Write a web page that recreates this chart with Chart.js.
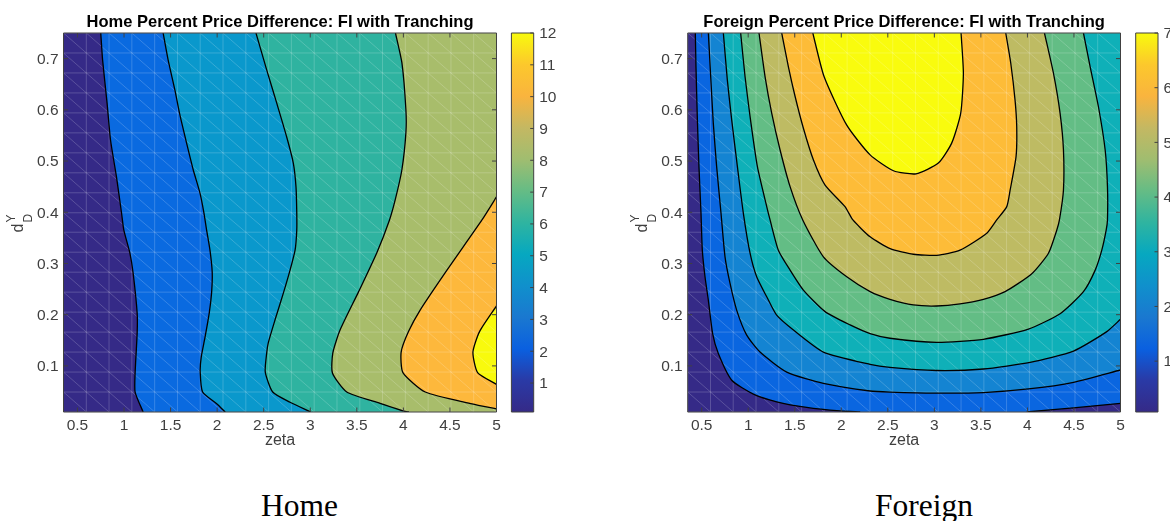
<!DOCTYPE html>
<html>
<head>
<meta charset="utf-8">
<script src="https://cdn.jsdelivr.net/npm/chart.js@4"></script>
<style>
    html, body { margin: 0; padding: 0; background: #fff; overflow: hidden; }
    body { width: 1170px; height: 521px; position: relative; }
    canvas { position: absolute; top: 0; }
    .caption { position: absolute; top: 488px; font: 31.5px "Liberation Serif", serif; color: #000; line-height: 36px; }
</style>
</head>
<body>
<canvas id="homeChart" width="505" height="450" style="left:0"></canvas>
<canvas id="homeBar" width="60" height="450" style="left:510px"></canvas>
<canvas id="foreignChart" width="505" height="450" style="left:624px"></canvas>
<canvas id="foreignBar" width="36" height="450" style="left:1134px"></canvas>
<div class="caption" style="left:261px">Home</div>
<div class="caption" style="left:875px">Foreign</div>
<script>
// axis ticks
var zetaTicks = [0.5, 1, 1.5, 2, 2.5, 3, 3.5, 4, 4.5, 5];
var dTicks = [0.1, 0.2, 0.3, 0.4, 0.5, 0.6, 0.7];
var homeBarTicks = [1, 2, 3, 4, 5, 6, 7, 8, 9, 10, 11, 12];
var foreignBarTicks = [1, 2, 3, 4, 5, 6, 7];
var homeRange = [0.09, 12];
var foreignRange = [0.07, 7];

// contourf solver grid, the seams of it show through the fill
var zetaNodes = [0.35, 0.595, 0.839, 1.084, 1.329, 1.574, 1.818, 2.063, 2.308, 2.553, 2.797, 3.042, 3.287, 3.532, 3.776, 4.021, 4.266, 4.511, 4.755, 5];
var dNodes = [0.01, 0.049, 0.088, 0.127, 0.166, 0.205, 0.244, 0.283, 0.322, 0.361, 0.399, 0.438, 0.477, 0.516, 0.555, 0.594, 0.633, 0.672, 0.711, 0.75];

// Home contours
var home1Zeta = [0.75, 0.77, 0.818, 0.855, 0.919, 0.973, 0.998, 1.062, 1.098, 1.141, 1.141, 1.119, 1.119, 1.205];
var home1D = [0.75, 0.697, 0.613, 0.541, 0.469, 0.399, 0.365, 0.321, 0.281, 0.203, 0.164, 0.086, 0.049, 0.01];
var home2Zeta = [1.42, 1.474, 1.546, 1.6, 1.672, 1.743, 1.815, 1.858, 1.887, 1.923, 1.947, 1.941, 1.915, 1.869, 1.829, 1.818, 1.844, 1.995, 2.087];
var home2D = [0.75, 0.697, 0.639, 0.59, 0.535, 0.483, 0.438, 0.399, 0.365, 0.326, 0.283, 0.244, 0.203, 0.155, 0.117, 0.088, 0.049, 0.026, 0.01];
var home3Zeta = [2.417, 2.532, 2.64, 2.747, 2.818, 2.847, 2.855, 2.855, 2.837, 2.783, 2.711, 2.622, 2.549, 2.532, 2.517, 2.597, 2.783, 3.005];
var home3D = [0.75, 0.678, 0.613, 0.547, 0.496, 0.449, 0.399, 0.365, 0.326, 0.287, 0.242, 0.19, 0.145, 0.125, 0.088, 0.049, 0.029, 0.01];
var home4Zeta = [3.915, 3.984, 4.027, 4.027, 3.984, 3.912, 3.851, 3.715, 3.517, 3.32, 3.242, 3.238, 3.392, 3.75, 4.02, 4.06];
var home4D = [0.75, 0.692, 0.6, 0.555, 0.483, 0.424, 0.385, 0.321, 0.244, 0.17, 0.125, 0.086, 0.049, 0.027, 0.011, 0.01];
var home5Zeta = [5, 4.844, 4.468, 4.18, 4.055, 3.976, 3.995, 4.235, 4.737, 5];
var home5D = [0.43, 0.385, 0.287, 0.209, 0.167, 0.127, 0.087, 0.049, 0.026, 0.016];
var home6Zeta = [5, 4.818, 4.747, 4.797, 5];
var home6D = [0.217, 0.167, 0.127, 0.087, 0.064];

// Foreign contours
var foreign1Zeta = [0.432, 0.439, 0.453, 0.471, 0.493, 0.507, 0.536, 0.572, 0.618, 0.679, 0.823, 1.056, 1.306, 1.629, 1.987, 2.203];
var foreign1D = [0.75, 0.684, 0.587, 0.489, 0.398, 0.326, 0.274, 0.228, 0.163, 0.124, 0.072, 0.045, 0.03, 0.019, 0.012, 0.01];
var foreign1bZeta = [3.993, 4.495, 5];
var foreign1bD = [0.01, 0.018, 0.027];
var foreign2Zeta = [0.572, 0.597, 0.625, 0.661, 0.708, 0.751, 0.805, 0.876, 0.984, 1.127, 1.414, 1.808, 2.31, 2.523, 3, 3.527, 4.011, 4.495, 5];
var foreign2D = [0.75, 0.665, 0.574, 0.489, 0.398, 0.313, 0.261, 0.209, 0.16, 0.127, 0.088, 0.066, 0.051, 0.049, 0.047, 0.048, 0.055, 0.068, 0.092];
var foreign3Zeta = [0.733, 0.776, 0.823, 0.884, 0.948, 1.02, 1.091, 1.199, 1.306, 1.486, 1.808, 2.31, 2.523, 3.025, 3.527, 4.029, 4.495, 4.853, 5];
var foreign3D = [0.75, 0.658, 0.58, 0.489, 0.398, 0.32, 0.274, 0.235, 0.199, 0.17, 0.127, 0.103, 0.097, 0.091, 0.094, 0.107, 0.129, 0.167, 0.191];
var foreign4Zeta = [0.919, 0.966, 1.02, 1.099, 1.199, 1.235, 1.324, 1.45, 1.593, 1.826, 2.095, 2.31, 2.523, 3.025, 3.527, 4.011, 4.351, 4.602, 4.728, 4.799, 4.846, 4.86, 4.86, 4.835, 4.763, 4.674, 4.602];
var foreign4D = [0.75, 0.665, 0.587, 0.489, 0.411, 0.385, 0.326, 0.287, 0.248, 0.206, 0.18, 0.163, 0.154, 0.146, 0.152, 0.172, 0.202, 0.245, 0.287, 0.326, 0.365, 0.385, 0.45, 0.522, 0.606, 0.684, 0.75];
var foreign5Zeta = [1.116, 1.181, 1.253, 1.342, 1.45, 1.586, 1.808, 2.059, 2.31, 2.523, 2.774, 3.025, 3.276, 3.527, 3.76, 4.047, 4.226, 4.315, 4.344, 4.387, 4.387, 4.351, 4.28, 4.183];
var foreign5D = [0.75, 0.665, 0.593, 0.522, 0.45, 0.385, 0.313, 0.274, 0.245, 0.23, 0.219, 0.217, 0.221, 0.23, 0.245, 0.28, 0.32, 0.365, 0.385, 0.443, 0.522, 0.593, 0.671, 0.75];
var foreign6Zeta = [1.36, 1.432, 1.504, 1.593, 1.701, 1.826, 2.04, 2.125, 2.31, 2.525, 2.774, 3.025, 3.276, 3.563, 3.67, 3.778, 3.814, 3.878, 3.885, 3.867, 3.821, 3.767];
var foreign6D = [0.75, 0.684, 0.626, 0.564, 0.502, 0.453, 0.411, 0.385, 0.352, 0.329, 0.318, 0.316, 0.326, 0.359, 0.385, 0.411, 0.443, 0.509, 0.567, 0.619, 0.691, 0.75];
var foreign7Zeta = [1.694, 1.815, 2.059, 2.31, 2.561, 2.803, 3.043, 3.186, 3.283, 3.312, 3.287];
var foreign7D = [0.75, 0.665, 0.57, 0.512, 0.481, 0.475, 0.496, 0.535, 0.593, 0.671, 0.75];

var homeBase = '#352a87';
var homeFills = ['#0a6ae0', '#0a98cc', '#2fb3a0', '#a8bd6b', '#fdb83c', '#f8fa0d'];
var foreignBase = '#352a87';
var foreignFills = ['#0a66e0', '#352a87', '#1484d2', '#0fb0b8', '#63bd85', '#bebb63', '#fdbc38', '#f9fb0e'];

// parula as it shows on the colour bars
var barStops = ['#352a87', '#2a3aa6', '#0a60e0', '#1a78d0', '#1090cc', '#06a8c0', '#2fb4a0', '#65bc85', '#a0bd70', '#c4b862', '#f9b43e', '#fcc82c', '#f8fa0d'];

var AXIS = '#404040';
var FONT = '"Liberation Sans", Arial, sans-serif';
Chart.defaults.font.family = FONT;
Chart.defaults.color = AXIS;

function contour(zeta, d, fill, closure) {
    return {
        type: 'scatter',
        data: zeta.map(function (z, i) { return { x: z, y: d[i] }; }),
        regionFill: fill,
        closure: closure,
        showLine: true,
        borderColor: '#000',
        borderWidth: 1.3,
        pointRadius: 0,
        fill: false,
        tension: 0.2
    };
}

// fills the regions (painter's order) and the mesh seams before the contour lines go on top
var regionPlugin = {
    id: 'regions',
    beforeDatasetsDraw: function (chart, args, opts) {
        var ctx = chart.ctx, x = chart.scales.x, y = chart.scales.y, a = chart.chartArea;
        ctx.save();
        ctx.beginPath();
        ctx.rect(a.left, a.top, a.width, a.height);
        ctx.clip();
        ctx.fillStyle = opts.base;
        ctx.fillRect(a.left, a.top, a.width, a.height);
        chart.data.datasets.forEach(function (ds, n) {
            ctx.beginPath();
            chart.getDatasetMeta(n).dataset.path(ctx);
            ds.closure.forEach(function (p) {
                ctx.lineTo(x.getPixelForValue(p.x), y.getPixelForValue(p.y));
            });
            ctx.closePath();
            ctx.fillStyle = ds.regionFill;
            ctx.fill();
        });
        ctx.strokeStyle = 'rgba(255,255,255,0.19)';
        ctx.lineWidth = 1;
        ctx.beginPath();
        zetaNodes.forEach(function (z) {
            ctx.moveTo(x.getPixelForValue(z), a.top);
            ctx.lineTo(x.getPixelForValue(z), a.bottom);
        });
        dNodes.forEach(function (d) {
            ctx.moveTo(a.left, y.getPixelForValue(d));
            ctx.lineTo(a.right, y.getPixelForValue(d));
        });
        for (var i = 0; i < zetaNodes.length - 1; i++) {
            for (var j = 0; j < dNodes.length - 1; j++) {
                ctx.moveTo(x.getPixelForValue(zetaNodes[i]), y.getPixelForValue(dNodes[j + 1]));
                ctx.lineTo(x.getPixelForValue(zetaNodes[i + 1]), y.getPixelForValue(dNodes[j]));
            }
        }
        ctx.stroke();
        ctx.restore();
    }
};

// matlab style box with ticks pointing inwards
var boxPlugin = {
    id: 'box',
    afterDraw: function (chart) {
        var ctx = chart.ctx, a = chart.chartArea;
        ctx.save();
        ctx.strokeStyle = AXIS;
        ctx.lineWidth = 1;
        ctx.beginPath();
        ctx.rect(a.left, a.top, a.width, a.height);
        if (chart.scales.x.type === 'linear') {
            chart.scales.x.ticks.forEach(function (t) {
                var px = chart.scales.x.getPixelForValue(t.value);
                ctx.moveTo(px, a.bottom); ctx.lineTo(px, a.bottom - 4.5);
                ctx.moveTo(px, a.top); ctx.lineTo(px, a.top + 4.5);
            });
            chart.scales.y.ticks.forEach(function (t) {
                var py = chart.scales.y.getPixelForValue(t.value);
                ctx.moveTo(a.left, py); ctx.lineTo(a.left + 4.5, py);
                ctx.moveTo(a.right, py); ctx.lineTo(a.right - 4.5, py);
            });
        } else {
            chart.scales.y.ticks.forEach(function (t) {
                var py = chart.scales.y.getPixelForValue(t.value);
                ctx.moveTo(a.right, py); ctx.lineTo(a.right - 3.5, py);
            });
        }
        ctx.stroke();
        ctx.restore();

        // d with Y over D, rotated like the matlab label
        if (chart.scales.x.type === 'linear') {
            var yc = (a.top + a.bottom) / 2;
            var xb = a.left - 40.5;
            ctx.save();
            ctx.fillStyle = AXIS;
            ctx.textAlign = 'left';
            ctx.textBaseline = 'alphabetic';
            ctx.translate(xb, yc + 10);
            ctx.rotate(-Math.PI / 2);
            ctx.font = '16px ' + FONT;
            ctx.fillText('d', 0, 0);
            ctx.font = '12px ' + FONT;
            ctx.fillText('Y', 10, -8);
            ctx.fillText('D', 10, 9);
            ctx.restore();
        }
    }
};

function tickList(values) {
    return function (scale) {
        scale.ticks = values.map(function (v) { return { value: v }; });
    };
}

function contourChart(id, title, datasets, base, yWidth) {
    new Chart(document.getElementById(id), {
        data: { datasets: datasets },
        plugins: [regionPlugin, boxPlugin],
        options: {
            responsive: false,
            animation: false,
            layout: { padding: { right: 8.5 } },
            plugins: {
                legend: { display: false },
                tooltip: { enabled: false },
                regions: { base: base },
                title: {
                    display: true,
                    text: title,
                    color: '#000',
                    fullSize: false,
                    font: { size: 16.5, weight: 'bold' },
                    padding: { top: 12.2, bottom: 1 }
                }
            },
            scales: {
                x: {
                    type: 'linear',
                    min: 0.35,
                    max: 5,
                    afterBuildTicks: tickList(zetaTicks),
                    afterFit: function (s) { s.height = 38; },
                    grid: { display: false, drawTicks: false },
                    border: { display: false },
                    ticks: {
                        font: { size: 15.5 },
                        maxRotation: 0,
                        autoSkip: false,
                        padding: 4,
                        callback: function (v) { return String(v); }
                    },
                    title: {
                        display: true,
                        text: 'zeta',
                        font: { size: 16 },
                        padding: 0
                    }
                },
                y: {
                    type: 'linear',
                    min: 0.01,
                    max: 0.75,
                    afterBuildTicks: tickList(dTicks),
                    afterFit: function (s) { s.width = yWidth; },
                    grid: { display: false, drawTicks: false },
                    border: { display: false },
                    ticks: {
                        font: { size: 15.5 },
                        padding: 5,
                        labelOffset: 1,
                        callback: function (v) { return String(v); }
                    }
                }
            }
        }
    });
}

function barChart(id, range, ticks, padLeft, yWidth) {
    new Chart(document.getElementById(id), {
        type: 'bar',
        data: {
            labels: [''],
            datasets: [{
                data: [range],
                barPercentage: 1,
                categoryPercentage: 1,
                backgroundColor: function (c) {
                    var a = c.chart.chartArea;
                    if (!a) return barStops[0];
                    var g = c.chart.ctx.createLinearGradient(0, a.bottom, 0, a.top);
                    barStops.forEach(function (col, i) {
                        g.addColorStop(i / (barStops.length - 1), col);
                    });
                    return g;
                }
            }]
        },
        plugins: [boxPlugin],
        options: {
            responsive: false,
            animation: false,
            layout: { padding: { top: 33, bottom: 38, left: padLeft } },
            plugins: { legend: { display: false }, tooltip: { enabled: false } },
            scales: {
                x: { display: false },
                y: {
                    position: 'right',
                    min: range[0],
                    max: range[1],
                    afterBuildTicks: tickList(ticks),
                    afterFit: function (s) { s.width = yWidth; },
                    grid: { display: false, drawTicks: false },
                    border: { display: false },
                    ticks: { font: { size: 15.5 }, padding: 5.5, labelOffset: 1 }
                }
            }
        }
    });
}

var CORNERS = [{ x: 5, y: 0.01 }, { x: 5, y: 0.75 }];
var TOP_RIGHT = [{ x: 5, y: 0.75 }];
var BOTTOM_RIGHT = [{ x: 5, y: 0.01 }];

contourChart('homeChart', 'Home Percent Price Difference: FI with Tranching', [
    contour(home1Zeta, home1D, homeFills[0], CORNERS),
    contour(home2Zeta, home2D, homeFills[1], CORNERS),
    contour(home3Zeta, home3D, homeFills[2], CORNERS),
    contour(home4Zeta, home4D, homeFills[3], CORNERS),
    contour(home5Zeta, home5D, homeFills[4], []),
    contour(home6Zeta, home6D, homeFills[5], [])
], homeBase, 63.5);

contourChart('foreignChart', 'Foreign Percent Price Difference: FI with Tranching', [
    contour(foreign1Zeta, foreign1D, foreignFills[0], CORNERS),
    contour(foreign1bZeta, foreign1bD, foreignFills[1], BOTTOM_RIGHT),
    contour(foreign2Zeta, foreign2D, foreignFills[2], TOP_RIGHT),
    contour(foreign3Zeta, foreign3D, foreignFills[3], TOP_RIGHT),
    contour(foreign4Zeta, foreign4D, foreignFills[4], []),
    contour(foreign5Zeta, foreign5D, foreignFills[5], []),
    contour(foreign6Zeta, foreign6D, foreignFills[6], []),
    contour(foreign7Zeta, foreign7D, foreignFills[7], [])
], foreignBase, 63.7);

barChart('homeBar', homeRange, homeBarTicks, 1.4, 36.3);
barChart('foreignBar', foreignRange, foreignBarTicks, 1.7, 12);
</script>
</body>
</html>
